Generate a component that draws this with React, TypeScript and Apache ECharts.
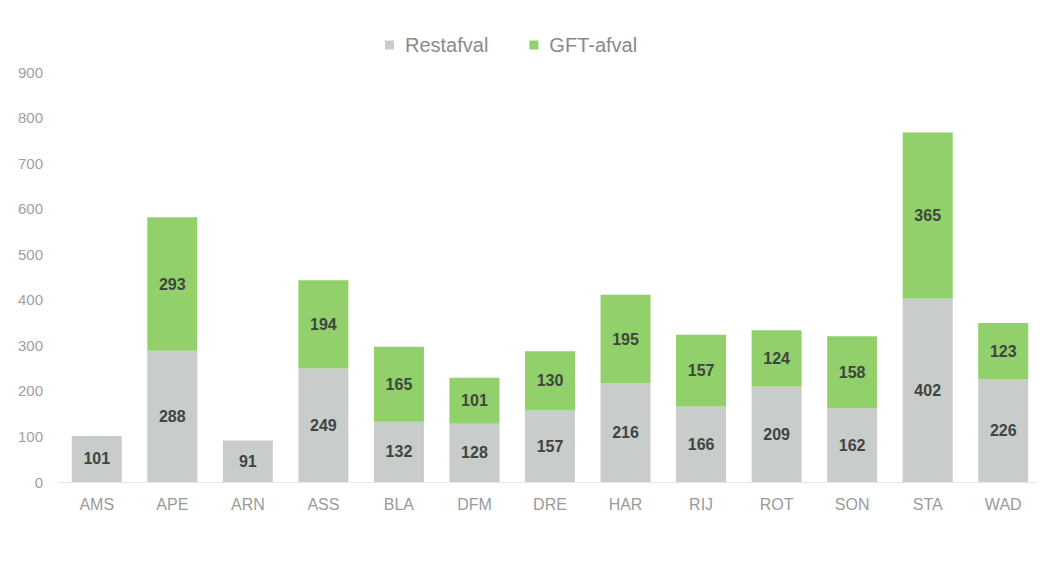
import React, { useEffect, useRef } from "react";
import * as echarts from "echarts";

const categories = ["AMS", "APE", "ARN", "ASS", "BLA", "DFM", "DRE", "HAR", "RIJ", "ROT", "SON", "STA", "WAD"];
const restafval = [101, 288, 91, 249, 132, 128, 157, 216, 166, 209, 162, 402, 226];
const gftAfval: (number | null)[] = [null, 293, null, 194, 165, 101, 130, 195, 157, 124, 158, 365, 123];
const yTicks = { min: 0, max: 900, interval: 100 };

export default function App() {
  const ref = useRef<HTMLDivElement>(null);
  useEffect(() => {
    if (!ref.current) return;
    const chart = echarts.init(ref.current, undefined, { renderer: "svg" });
    const label = {
      show: true,
      position: "inside" as const,
      color: "#3f453f",
      fontWeight: "bold" as const,
      fontSize: 16,
      fontFamily: "Liberation Sans, Arial, sans-serif",
    };
    chart.setOption({
      animation: false,
      backgroundColor: "#ffffff",
      textStyle: { fontFamily: "Liberation Sans, Arial, sans-serif" },
      legend: {
        top: 27,
        left: 377,
        padding: 0,
        itemWidth: 9,
        itemHeight: 9,
        itemGap: 41,
        icon: "rect",
        textStyle: { color: "#8a8a8a", fontSize: 20, padding: [0, 0, 0, 6] },
        data: ["Restafval", "GFT-afval"],
      },
      grid: { left: 51, right: 3, top: 64, bottom: 71 },
      xAxis: {
        type: "category",
        data: categories,
        axisLine: { show: true, lineStyle: { color: "#e6e6e6" } },
        axisTick: { show: false },
        axisLabel: { color: "#9a9a9a", fontSize: 16, margin: 14 },
      },
      yAxis: {
        type: "value",
        min: yTicks.min,
        max: yTicks.max,
        interval: yTicks.interval,
        axisLine: { show: false },
        axisTick: { show: false },
        splitLine: { show: false },
        axisLabel: { color: "#a0a0a0", fontSize: 15, margin: 16 },
      },
      series: [
        {
          name: "Restafval",
          type: "bar",
          stack: "total",
          data: restafval,
          barWidth: 50,
          itemStyle: { color: "#c8cccb" },
          label,
        },
        {
          name: "GFT-afval",
          type: "bar",
          stack: "total",
          data: gftAfval,
          barWidth: 50,
          itemStyle: { color: "#91d06a" },
          label,
        },
      ],
    });
    return () => chart.dispose();
  }, []);
  return <div ref={ref} style={{ width: 1036, height: 545 }} />;
}
